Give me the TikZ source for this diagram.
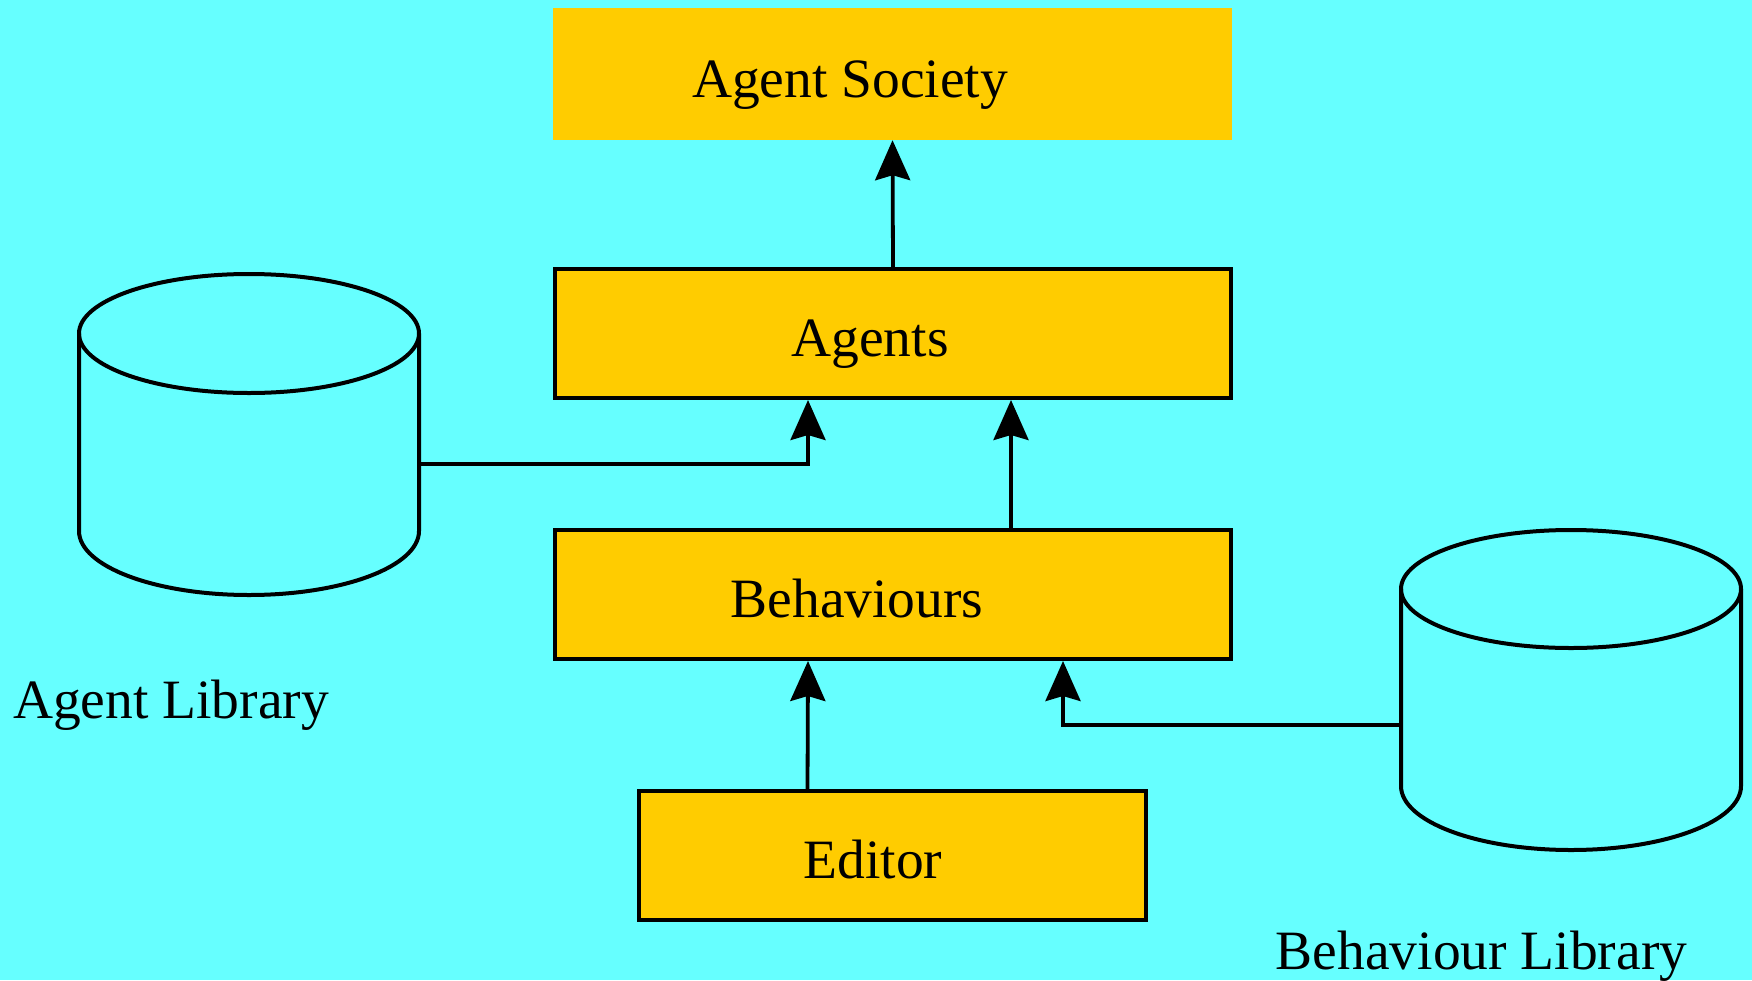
\documentclass[tikz,border=0pt]{standalone}
\usepackage{fontspec}
\setmainfont{Liberation Serif}
\usetikzlibrary{arrows.meta}
\definecolor{bgcyan}{HTML}{66FFFF}
\definecolor{boxgold}{HTML}{FFCC00}
\begin{document}
\begin{tikzpicture}[x=1pt,y=-1pt,
  box/.style={draw=black, line width=4pt, fill=boxgold, inner sep=0pt,
              minimum width=676pt, minimum height=129pt},
  txt/.style={font=\fontsize{55.5}{66}\selectfont, inner sep=0pt, anchor=base},
  link/.style={line width=3.8pt, -{Stealth[length=40pt,width=35pt,inset=5pt]}},
  store/.style={line width=4pt, line join=round}]
% canvas
\fill[bgcyan] (0,0) rectangle (1752,980);
\useasboundingbox (0,0) rectangle (1752,980);

% layers
\node[fill=boxgold, inner sep=0pt, minimum width=679pt, minimum height=132pt] (society) at (892.5,74) {};
\node[box] (agents) at (893,333.5) {};
\node[box] (behav) at (893,594.5) {};
\node[box, minimum width=507pt] (editor) at (892.5,855.5) {};

\node[txt] (societyT) at (850,97) {Agent Society};
\node[txt] (agentsT) at (870,356) {Agents};
\node[txt] (behavT) at (857,617) {Behaviours};
\node[txt] (editorT) at (873,878) {Editor};

% agent library store
\draw[store] (79,333.5) -- (79,531) arc[start angle=180, end angle=360, x radius=170pt, y radius=64pt] -- (419,333.5);
\draw[store] (249,333.5) ellipse[x radius=170pt, y radius=59.5pt];
\coordinate (alibport) at (419,464);
\node[txt] (alibT) at (171,718) {Agent Library};

% behaviour library store
\draw[store] (1401,589) -- (1401,786) arc[start angle=180, end angle=360, x radius=170pt, y radius=64pt] -- (1741,589);
\draw[store] (1571,589) ellipse[x radius=170pt, y radius=59pt];
\coordinate (blibport) at (1401,725);
\node[txt] (blibT) at (1481.5,969) {Behaviour Library};

% connectors
\draw[link] (agents.north) -- (society.south);
\draw[link] (alibport) -| ([xshift=-85pt]agents.south);
\draw[link] ([xshift=118pt]behav.north) -- ([xshift=118pt]agents.south);
\draw[link] ([xshift=-85pt]editor.north) -- ([xshift=-85pt]behav.south);
\draw[link] (blibport) -| ([xshift=170pt]behav.south);
\end{tikzpicture}
\end{document}
